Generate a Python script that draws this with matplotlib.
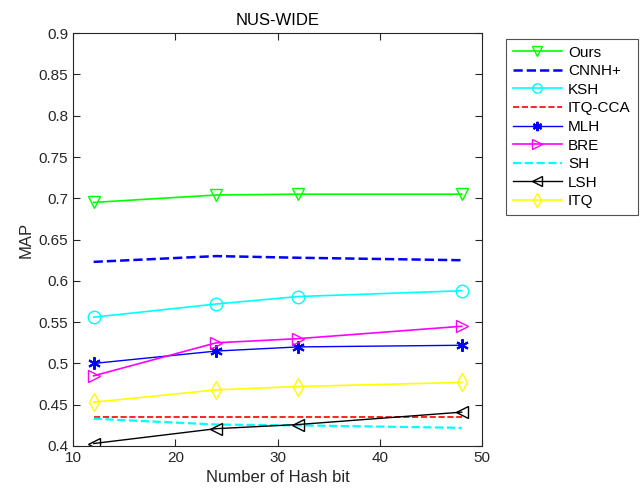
import matplotlib
matplotlib.use("Agg")
import matplotlib.pyplot as plt

plt.rcParams['font.family'] = ['Liberation Sans', 'DejaVu Sans']

bits = [12, 24, 32, 48]
ours = [0.695, 0.704, 0.705, 0.705]
cnnh = [0.623, 0.630, 0.628, 0.625]
ksh = [0.556, 0.572, 0.581, 0.588]
itq_cca = [0.435, 0.435, 0.435, 0.435]
mlh = [0.500, 0.515, 0.520, 0.522]
bre = [0.485, 0.525, 0.530, 0.545]
sh = [0.433, 0.426, 0.425, 0.422]
lsh = [0.403, 0.421, 0.426, 0.441]
itq = [0.453, 0.468, 0.472, 0.477]

fig = plt.figure(figsize=(6.42, 4.95), dpi=100)
ax = fig.add_axes([0.114, 0.099, 0.637, 0.834])

ms = 9
asterisk = (6, 2, 0)
ax.plot(bits, ours, '-', color='#00ff00', marker='v', ms=ms, mfc='none', lw=1.2, label='Ours')
ax.plot(bits, cnnh, '--', color='#0000ff', lw=1.8, label='CNNH+')
ax.plot(bits, ksh, '-', color='#00ffff', marker='o', ms=ms, mfc='none', lw=1.2, label='KSH')
ax.plot(bits, itq_cca, '--', color='#ff0000', lw=1.2, label='ITQ-CCA')
ax.plot(bits, mlh, '-', color='#0000ff', marker=asterisk, ms=ms, mew=1.5, lw=1.0, label='MLH')
ax.plot(bits, bre, '-', color='#ff00ff', marker='>', ms=ms, mfc='none', lw=1.2, label='BRE')
ax.plot(bits, sh, '--', color='#00ffff', lw=1.6, label='SH')
ax.plot(bits, lsh, '-', color='#000000', marker='<', ms=ms, mfc='none', lw=1.0, label='LSH')
ax.plot(bits, itq, '-', color='#ffff00', marker='d', ms=ms, mfc='none', lw=1.2, label='ITQ')

ax.set_xlim(10, 50)
ax.set_ylim(0.4, 0.9)
ax.set_xticks([10, 20, 30, 40, 50])
ax.set_yticks([0.4, 0.45, 0.5, 0.55, 0.6, 0.65, 0.7, 0.75, 0.8, 0.85, 0.9])
ax.set_yticklabels(['0.4', '0.45', '0.5', '0.55', '0.6', '0.65', '0.7', '0.75', '0.8', '0.85', '0.9'])
ax.tick_params(direction='in', top=True, right=True, labelsize=11, colors='#262626', length=5)
for s in ax.spines.values():
    s.set_color('#262626')
ax.set_xlabel('Number of Hash bit', fontsize=12, color='#262626')
ax.set_ylabel('MAP', fontsize=12, color='#262626')
ax.set_title('NUS-WIDE', fontsize=12, color='#000000')

leg = ax.legend(loc='upper left', bbox_to_anchor=(1.04, 1.005), fontsize=11, fancybox=False,
                edgecolor='#262626', handlelength=3.2, borderpad=0.45, labelspacing=0.3,
                markerscale=0.75, numpoints=1, handletextpad=0.4)
leg.get_frame().set_linewidth(0.8)

fig.savefig('out.png', dpi=100)
